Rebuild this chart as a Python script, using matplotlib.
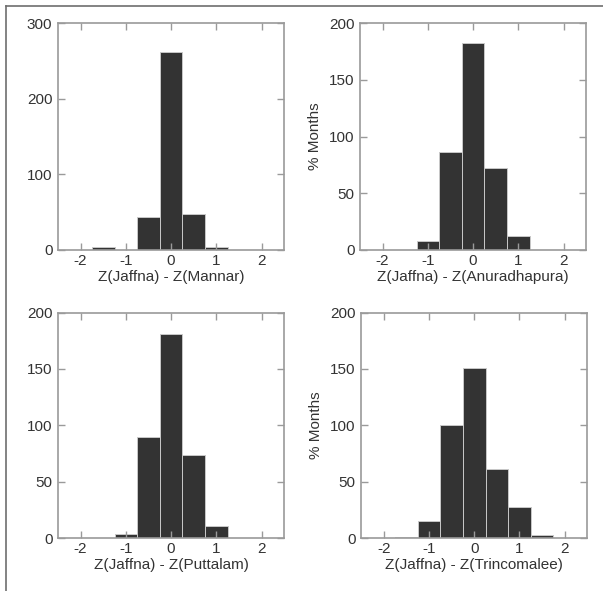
import matplotlib
matplotlib.use("Agg")
import matplotlib.pyplot as plt
from matplotlib.lines import Line2D

plt.rcParams['font.family'] = ['Liberation Sans', 'DejaVu Sans']
plt.rcParams['axes.unicode_minus'] = False

# bin centres (Z difference) and counts
bin_centers = [-2.0, -1.5, -1.0, -0.5, 0.0, 0.5, 1.0, 1.5, 2.0]
mannar = [0, 4, 0, 44, 262, 47, 4, 0, 0]
anuradhapura = [0, 0, 8, 86, 182, 72, 12, 0, 0]
puttalam = [0, 0, 4, 90, 181, 74, 11, 0, 0]
trincomalee = [0, 1, 15, 100, 151, 61, 28, 3, 0]

stations = ['Mannar', 'Anuradhapura', 'Puttalam', 'Trincomalee']
counts = [mannar, anuradhapura, puttalam, trincomalee]
y_max = [300, 200, 200, 200]
y_ticks = [[0, 100, 200, 300], [0, 50, 100, 150, 200],
           [0, 50, 100, 150, 200], [0, 50, 100, 150, 200]]
x_ticks = [-2, -1, 0, 1, 2]


def main():
    fig = plt.figure(figsize=(6.03, 5.91), dpi=100)

    # axes boxes in figure fractions: left, bottom, width, height
    boxes = [
        [0.0962, 0.577, 0.375, 0.384],
        [0.597, 0.577, 0.375, 0.384],
        [0.0962, 0.0892, 0.375, 0.382],
        [0.599, 0.0892, 0.375, 0.382],
    ]

    spine_col = '#9a9a9a'
    text_col = '#333333'

    for i, box in enumerate(boxes):
        ax = fig.add_axes(box)
        ax.bar(bin_centers, counts[i], width=0.5, color='#333333',
               edgecolor='#c8c8c8', linewidth=0.7, align='center')
        ax.set_xlim(-2.5, 2.5)
        ax.set_ylim(0, y_max[i])
        ax.set_xticks(x_ticks)
        ax.set_yticks(y_ticks[i])
        ax.tick_params(direction='in', length=5, width=1.0, color=spine_col,
                       top=True, right=True, labelsize=11, labelcolor=text_col)
        ax.tick_params(axis='y', pad=4)
        ax.tick_params(axis='x', pad=3)
        for s in ax.spines.values():
            s.set_color(spine_col)
            s.set_linewidth(1.2)
        ax.set_xlabel('Z(Jaffna) - Z(' + stations[i] + ')', fontsize=11,
                      color=text_col, labelpad=1)
        if i % 2 == 1:
            ax.set_ylabel('% Months', fontsize=11, color=text_col, labelpad=5)

    # frame lines on the top and left edge of the picture
    fig.add_artist(Line2D([6 / 603, 1.0], [1 - 6 / 591, 1 - 6 / 591],
                          transform=fig.transFigure, color='#6e6e6e', lw=1.2))
    fig.add_artist(Line2D([6 / 603, 6 / 603], [0.0, 1 - 6 / 591],
                          transform=fig.transFigure, color='#6e6e6e', lw=1.2))

    fig.savefig('out.png', dpi=100, facecolor='white')


if __name__ == '__main__':
    main()
